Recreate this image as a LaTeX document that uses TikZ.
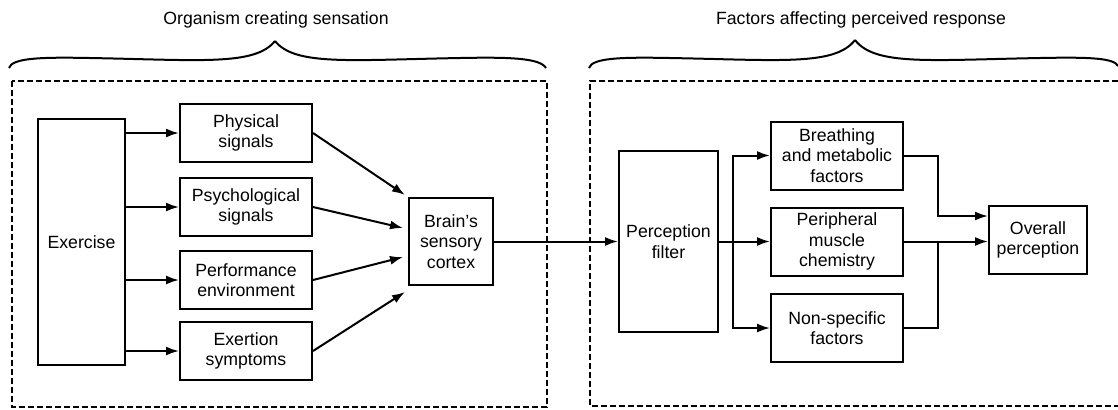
\documentclass[tikz,border=0pt]{standalone}
\usepackage{fontspec}
\setmainfont{Liberation Sans}
\usetikzlibrary{arrows.meta}

\begin{document}
\begin{tikzpicture}[x=0.5pt,y=-0.5pt,
    font=\fontsize{8.85}{10.3}\selectfont,
    line width=1pt,
    >={Latex[length=6.5pt,width=4.5pt]},
    box/.style={draw,align=center,inner sep=1pt},
    sig/.style={box,minimum width=66pt,minimum height=29pt},
    fac/.style={box,minimum width=66pt,minimum height=34pt},
    dashbox/.style={dash pattern=on 3pt off 1.5pt}]
      \useasboundingbox (0,0) rectangle (1118,409);
      % titles and braces
      \node (ttl) at (276,20) {Organism creating sensation};
      \node (ttr) at (861,20) {Factors affecting perceived response};
      \draw (9,68) .. controls (12,58) and (40,57) .. (90,58) .. controls (200,60) and (255,66) .. (275,41);
      \draw (275,41) .. controls (295,66) and (350,60) .. (460,58) .. controls (510,57) and (540,58) .. (546,68);
      \draw (589,68) .. controls (592,58) and (620,57) .. (670,58) .. controls (780,60) and (835,66) .. (855,40);
      \draw (855,40) .. controls (875,66) and (930,60) .. (1040,58) .. controls (1090,57) and (1114,58) .. (1118,66);
      % dashed frames
      \draw[dashbox] (12,81) rectangle (547,407);
      \draw[dashbox] (1118,81) -| (590,406) -- (1118,406);
      % left part
      \node[box,minimum width=43.5pt,minimum height=123pt] (ex) at (81.5,242) {Exercise};
      \node[sig] (phys) at (246,133) {Physical\\signals};
      \node[sig] (psy) at (246,207) {Psychological\\signals};
      \node[sig] (perf) at (246,280) {Performance\\environment};
      \node[sig] (exs) at (246,351) {Exertion\\symptoms};
      \node[box,minimum width=42pt,minimum height=43.5pt] (brain) at (451,241.5) {Brain's\\sensory\\cortex};
      \coordinate (b1) at (405,195);
      \coordinate (b2) at (403,228);
      \coordinate (b3) at (403,257);
      \coordinate (b4) at (405,292);
      \draw[->] (ex.east |- phys.west) -- (phys.west);
      \draw[->] (ex.east |- psy.west) -- (psy.west);
      \draw[->] (ex.east |- perf.west) -- (perf.west);
      \draw[->] (ex.east |- exs.west) -- (exs.west);
      \draw[->] (phys.east) -- (b1);
      \draw[->] (psy.east) -- (b2);
      \draw[->] (perf.east) -- (b3);
      \draw[->] (exs.east) -- (b4);
      % right part
      \node[box,minimum width=49.5pt,minimum height=90.5pt] (filt) at (668.5,241.5) {Perception\\filter};
      \node[fac] (breath) at (837,155.5) {Breathing\\and metabolic\\factors};
      \node[fac] (musc) at (837,241.5) {Peripheral\\muscle\\chemistry};
      \node[fac] (nonsp) at (837,328) {Non-specific\\factors};
      \node[box,minimum width=49pt,minimum height=34pt] (over) at (1038,240) {Overall\\perception};
      \coordinate (fork) at (733,241.5);
      \coordinate (j1) at (938,216);
      \coordinate (j2) at (938,241.5);
      \draw[->] (brain.east) -- (filt.west);
      \draw[->] (filt.east) -- (musc.west);
      \draw[->] (fork) |- (breath.west);
      \draw[->] (fork) |- (nonsp.west);
      \draw[->] (breath.east) -| (j1) -- (over.west |- j1);
      \draw[->] (musc.east) -- (over.west |- musc.east);
      \draw (nonsp.east) -| (j2);
    \end{tikzpicture}
\end{document}
